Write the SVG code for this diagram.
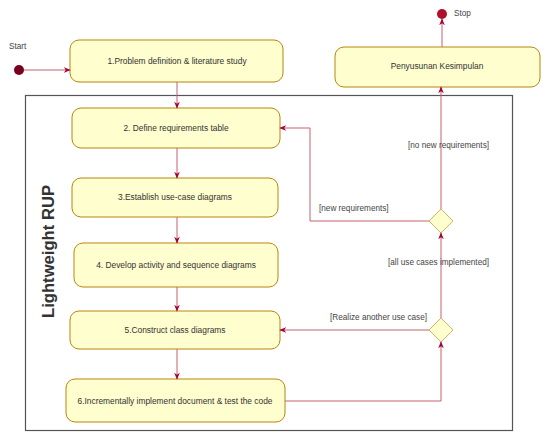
<svg xmlns="http://www.w3.org/2000/svg" width="544" height="432" viewBox="0 0 544 432">
<style>
.node rect{fill:#FEFECE;stroke:#B8860B;stroke-width:1}
.node text{font-family:"Liberation Sans",Arial,sans-serif;font-size:8.4px;fill:#333;text-anchor:middle}
.dec polygon{fill:#FEFECE;stroke:#C9A040;stroke-width:0.8}
#connectors path{fill:none;stroke:#C86070;stroke-width:1;marker-end:url(#arr)}
.lbl{font-family:"Liberation Sans",Arial,sans-serif;font-size:8.2px;fill:#444}
</style>
<defs>
<marker id="arr" viewBox="0 0 10 10" refX="9" refY="5" markerWidth="7" markerHeight="7" orient="auto-start-reverse" markerUnits="userSpaceOnUse">
<path d="M0,1 L10,5 L0,9 L3,5 Z" fill="#A80036"/>
</marker>
</defs>
<rect width="544" height="432" fill="#ffffff"/>
<g id="frame">
<rect x="25.500" y="95.500" width="487" height="335" fill="none" stroke="#555" stroke-width="1.2"/>
<text transform="translate(53.500,251.500) rotate(-90)" font-family="Liberation Sans,Arial,sans-serif" font-size="16" font-weight="bold" fill="#333" text-anchor="middle" textLength="133" lengthAdjust="spacingAndGlyphs">Lightweight RUP</text>
</g>
<g id="start">
<circle cx="19" cy="70" r="5" fill="#7A0020"/>
<text x="9" y="49" class="lbl" font-size="6.5">Start</text>
</g>
<g id="stop">
<circle cx="442" cy="14" r="5" fill="#B0102A"/>
<text x="454" y="16" class="lbl" font-size="6.5">Stop</text>
</g>
<g id="n1" class="node"><rect x="70" y="40" width="213" height="42" rx="9"/><text x="177" y="64">1.Problem definition &amp; literature study</text></g>
<g id="n2" class="node"><rect x="72" y="108" width="208" height="40" rx="9"/><text x="176" y="131">2. Define requirements table</text></g>
<g id="n3" class="node"><rect x="72" y="178" width="206" height="39" rx="9"/><text x="175" y="200">3.Establish use-case diagrams</text></g>
<g id="n4" class="node"><rect x="74" y="243" width="204" height="44" rx="9"/><text x="176" y="268">4. Develop activity and sequence diagrams</text></g>
<g id="n5" class="node"><rect x="70" y="311" width="210" height="38" rx="9"/><text x="175" y="333">5.Construct class diagrams</text></g>
<g id="n6" class="node"><rect x="66" y="379" width="219" height="43" rx="9"/><text x="175" y="404">6.Incrementally implement document &amp; test the code</text></g>
<g id="n7" class="node"><rect x="335" y="47" width="205" height="40" rx="9"/><text x="437" y="69">Penyusunan Kesimpulan</text></g>
<g id="d1" class="dec"><polygon points="441,209 453,221 441,233 429,221"/></g>
<g id="d2" class="dec"><polygon points="441,318 453,330 441,342 429,330"/></g>
<g id="connectors">
<path d="M24,70 H70"/>
<path d="M177,82 V108"/>
<path d="M177,148 V178"/>
<path d="M177,217 V243"/>
<path d="M177,287 V311"/>
<path d="M177,349 V379"/>
<path d="M285,401 H441 V342"/>
<path d="M429,330 H280"/>
<path d="M441,318 V233"/>
<path d="M429,221 H310 V128 H280"/>
<path d="M441,209 V87"/>
<path d="M442,47 V19"/>
</g>
<g id="labels">
<text class="lbl" x="427" y="320" text-anchor="end">[Realize another use case]</text>
<text class="lbl" x="388" y="265">[all use cases implemented]</text>
<text class="lbl" x="319" y="211">[new requirements]</text>
<text class="lbl" x="408" y="148">[no new requirements]</text>
</g>
</svg>
